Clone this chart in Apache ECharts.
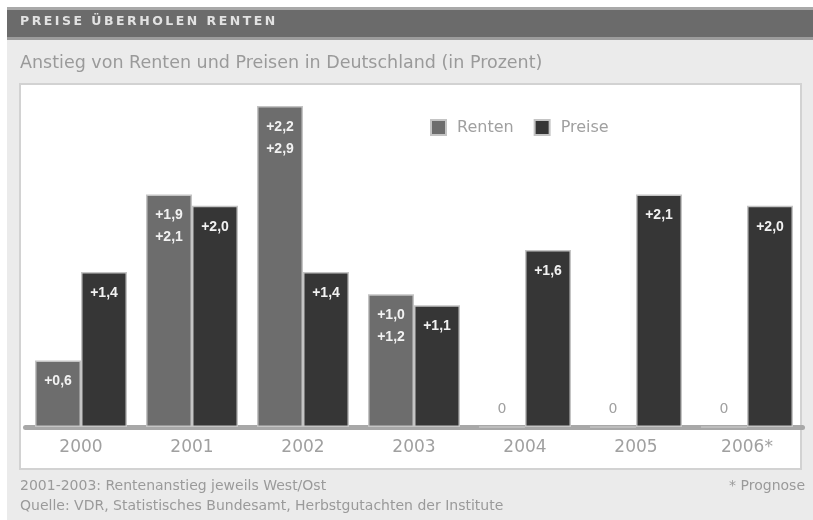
<!DOCTYPE html>
<html><head><meta charset="utf-8">
<script src="https://cdn.jsdelivr.net/npm/echarts@6/dist/echarts.min.js"></script>
<style>html,body{margin:0;padding:0;background:#fff}#c{width:813px;height:520px}</style>
</head><body><div id="c"></div>
<script>
const categories = ['2000','2001','2002','2003','2004','2005','2006*'];
const rentenWest = [0.6, 1.9, 2.2, 1.0, 0, 0, 0];
const rentenOst  = [0.6, 2.1, 2.9, 1.2, 0, 0, 0];
const preise     = [1.4, 2.0, 1.4, 1.1, 1.6, 2.1, 2.0];

const fmt = v => (v > 0 ? '+' : '') + v.toFixed(1).replace('.', ',');

const inLabel = {show:true, position:'insideTop', distance:10, color:'#f2f2f2', fontWeight:'bold', fontSize:14, fontFamily:'Liberation Sans', lineHeight:22};
const zeroLabel = {show:true, position:'top', distance:10, color:'#a0a0a0', fontSize:14, fontFamily:'DejaVu Sans'};

const rentenData = categories.map((c, i) => {
  const w = rentenWest[i], o = rentenOst[i];
  const v = Math.max(w, o);
  if (v === 0) return {value: 0, label: Object.assign({}, zeroLabel, {formatter: '0'})};
  const txt = (w === o) ? fmt(w) : fmt(w) + '\n' + fmt(o);
  return {value: v, label: Object.assign({}, inLabel, {formatter: txt})};
});
const preiseData = preise.map(v => ({value: v, label: Object.assign({}, inLabel, {formatter: fmt(v)})}));

const titleText = 'PREISE ÜBERHOLEN RENTEN'.split(' ').map(w => w.split('').join('\u2009')).join('\u2009\u2009 ');

const chart = echarts.init(document.getElementById('c'));
chart.setOption({
  backgroundColor: '#ffffff',
  animation: false,
  graphic: [
    {type:'rect', z:-10, shape:{x:7, y:7, width:806, height:513}, style:{fill:'#ebebeb'}},
    {type:'rect', z:-9, shape:{x:7, y:7, width:806, height:3}, style:{fill:'#a9a9a9'}},
    {type:'rect', z:-9, shape:{x:7, y:10, width:806, height:27}, style:{fill:'#6b6b6b'}},
    {type:'rect', z:-9, shape:{x:7, y:37, width:806, height:3}, style:{fill:'#9c9c9c'}},
    {type:'rect', z:-9, shape:{x:20, y:84, width:781, height:385}, style:{fill:'#ffffff', stroke:'#d2d2d2', lineWidth:2}},
    {type:'text', left:20, top:15, style:{text:titleText, fill:'#e2e2e2', font:'bold 12.5px "DejaVu Sans"'}},
    {type:'text', left:20, top:54, style:{text:'Anstieg von Renten und Preisen in Deutschland (in Prozent)', fill:'#9a9a9a', font:'17.5px "DejaVu Sans"'}},
    {type:'text', left:20, top:479, style:{text:'2001-2003: Rentenanstieg jeweils West/Ost', fill:'#9a9a9a', font:'14px "DejaVu Sans"'}},
    {type:'text', left:20, top:499, style:{text:'Quelle: VDR, Statistisches Bundesamt, Herbstgutachten der Institute', fill:'#9a9a9a', font:'14px "DejaVu Sans"'}},
    {type:'text', right:8, top:479, style:{text:'* Prognose', fill:'#9a9a9a', font:'14px "DejaVu Sans"'}}
  ],
  legend: {
    left: 425, top: 114, itemWidth: 15, itemHeight: 15, itemGap: 20,
    icon: 'rect',
    textStyle: {color:'#a0a0a0', fontSize:16, fontFamily:'DejaVu Sans', padding:[0,0,0,6]},
    data: ['Renten','Preise']
  },
  grid: {left: 25.5, right: 10.5, top: 95, bottom: 93},
  xAxis: {
    type: 'category', data: categories,
    axisLine: {show:true, lineStyle:{color:'#a8a8a8', width:5}},
    axisTick: {show:false},
    axisLabel: {color:'#a0a0a0', fontSize:17, fontFamily:'DejaVu Sans', margin:12}
  },
  yAxis: {type:'value', min:0, max:3, show:false, splitLine:{show:false}},
  series: [
    {name:'Renten', type:'bar', data: rentenData, barWidth:46, barGap:'0%',
     itemStyle:{color:'#6d6d6d', borderColor:'#c4c4c4', borderWidth:1.5}},
    {name:'Preise', type:'bar', data: preiseData, barWidth:46,
     itemStyle:{color:'#363636', borderColor:'#c4c4c4', borderWidth:1.5}}
  ]
});
</script></body></html>
